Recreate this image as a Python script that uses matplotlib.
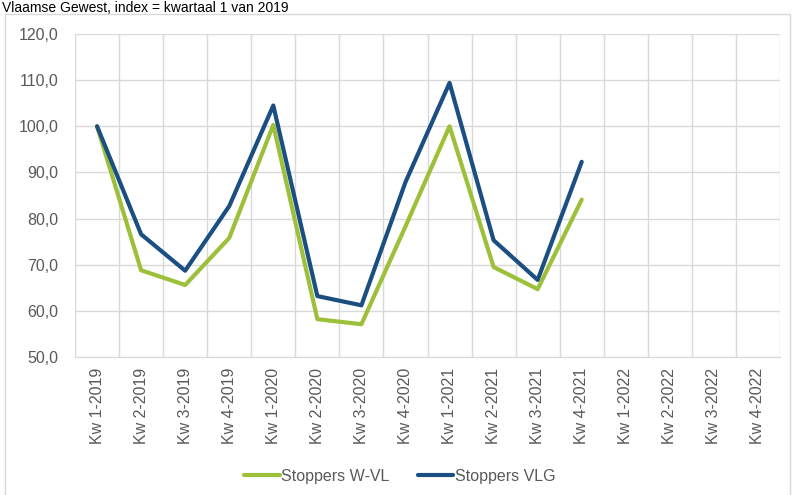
import numpy as np
from matplotlib import pyplot as plt
from matplotlib.patches import Rectangle

quarters = [f"Kw {q}-{y}" for y in (2019, 2020, 2021, 2022) for q in (1, 2, 3, 4)]
stoppers_wvl = [100.0, 68.8, 65.6, 75.8, 100.3, 58.2, 57.1, 78.3, 100.0, 69.5, 64.7, 84.1]
stoppers_vlg = [100.0, 76.6, 68.7, 82.7, 104.5, 63.2, 61.2, 87.9, 109.4, 75.3, 66.7, 92.3]

GREEN = "#9DC03A"
BLUE = "#1B4F82"
GRID = "#D9D9D9"
TEXT = "#595959"

plt.rcParams["font.family"] = ["Liberation Sans Narrow", "Liberation Sans", "DejaVu Sans"]

fig = plt.figure(figsize=(7.93, 4.95), dpi=100)
ax = fig.add_axes([0.0946, 0.2788, 0.889, 0.6525])

# outer chart frame and the title just above it
fig.patches.append(Rectangle((5 / 793, -0.02), 785 / 793, 1 - 14 / 495 + 0.02, transform=fig.transFigure,
                             fill=False, edgecolor=GRID, linewidth=1.0))
fig.text(2 / 793, 1 - 1 / 495, "Vlaamse Gewest, index = kwartaal 1 van 2019", ha="left", va="top",
         fontsize=10, color="black")

x = np.arange(len(quarters))
ax.plot(x[:len(stoppers_wvl)], stoppers_wvl, color=GREEN, linewidth=3.0, label="Stoppers W-VL",
        solid_joinstyle="round", solid_capstyle="round")
ax.plot(x[:len(stoppers_vlg)], stoppers_vlg, color=BLUE, linewidth=3.0, label="Stoppers VLG",
        solid_joinstyle="round", solid_capstyle="round")

ax.set_xlim(-0.5, len(quarters) - 0.5)
ax.set_ylim(50, 120)
ax.set_yticks(np.arange(50, 121, 10))
ax.set_yticklabels([f"{v:.1f}".replace(".", ",") for v in np.arange(50, 121, 10)], color=TEXT, fontsize=11.5)
ax.set_xticks(x)
ax.set_xticklabels(quarters, rotation=90, color=TEXT, fontsize=11.5)
ax.set_xticks(np.arange(-0.5, len(quarters), 1), minor=True)
ax.tick_params(axis="both", which="both", length=0)
ax.tick_params(axis="y", pad=12)
ax.tick_params(axis="x", pad=8)
ax.grid(axis="y", color=GRID, linewidth=1.0)
ax.grid(axis="x", which="minor", color=GRID, linewidth=1.0)
ax.set_axisbelow(True)
for side in ("top", "right", "left"):
    ax.spines[side].set_visible(False)
ax.spines["bottom"].set_color(GRID)

fig.legend(loc="center", bbox_to_anchor=(400 / 793, 1 - 476 / 495), ncol=2, frameon=False,
           fontsize=11.5, handlelength=2.2, handletextpad=0.1, columnspacing=1.8, labelcolor=TEXT)

fig.savefig("out.png", dpi=100)
